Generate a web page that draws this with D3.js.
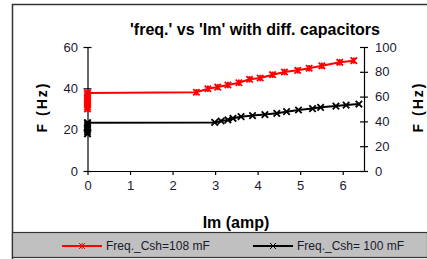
<!DOCTYPE html>
<html>
<head>
<meta charset="utf-8">
<script src="https://d3js.org/d3.v7.min.js"></script>
<style>
    body { margin: 0; background: white; }
    text { font-family: "Liberation Sans", Arial, sans-serif; }
</style>
</head>
<body>
<svg id="chart" width="427" height="259"></svg>
<script>
    // current Im (amp) and frequency (Hz)
    const redIm   = [0, 0, 0, 0, 0, 0, 0, 0, 0, 2.56, 2.83, 3.06, 3.30, 3.56, 3.81, 4.06, 4.35, 4.63, 4.94, 5.21, 5.51, 5.93, 6.26];
    const redFreq = [30, 31, 32, 33, 34, 35, 36, 37, 37.8, 38.1, 39.8, 40.6, 41.6, 42.7, 44.4, 45.0, 46.6, 47.9, 48.7, 49.7, 50.9, 52.6, 53.4];

    const blackIm   = [0, 0, 0, 0, 0, 0, 0, 2.99, 3.14, 3.30, 3.42, 3.61, 3.88, 4.17, 4.45, 4.68, 4.96, 5.29, 5.48, 5.84, 6.08, 6.38];
    const blackFreq = [18, 19, 20, 21, 22, 23, 23.4, 23.5, 24.2, 24.7, 25.5, 26.3, 26.8, 27.3, 27.9, 28.7, 29.5, 30.2, 30.8, 31.4, 31.9, 32.4];

    const xTicks = [0, 1, 2, 3, 4, 5, 6];
    const leftTicks = [0, 20, 40, 60];
    const rightTicks = [0, 20, 40, 60, 80, 100];

    const seriesNames = ["Freq._Csh=108 mF", "Freq._Csh= 100 mF"];
    const seriesColors = ["#ff0000", "#000000"];

    const svg = d3.select("#chart");

    // outer frame
    svg.append("path")
        .attr("d", "M12.5,259 V4.5 H427")
        .attr("fill", "none")
        .attr("stroke", "#333")
        .attr("stroke-width", 1.5);

    const x = d3.scaleLinear().domain([0, 6.5]).range([87.5, 364]);
    const y = d3.scaleLinear().domain([0, 60]).range([171, 47]);
    const y2 = d3.scaleLinear().domain([0, 100]).range([171, 47]);

    // axes
    const ax = svg.append("g").attr("transform", "translate(0,171)")
        .call(d3.axisBottom(x).tickValues(xTicks).tickFormat(d3.format("d")).tickSize(4).tickSizeOuter(0));
    const ay = svg.append("g").attr("transform", "translate(87.5,0)")
        .call(d3.axisLeft(y).tickValues(leftTicks).tickSize(4).tickSizeOuter(0));
    const ay2 = svg.append("g").attr("transform", "translate(364,0)")
        .call(d3.axisRight(y2).tickValues(rightTicks).tickSize(4).tickSizeOuter(0));

    [ax, ay, ay2].forEach(g => {
        g.select(".domain").attr("stroke", "#000").attr("stroke-width", 1.2);
        g.selectAll(".tick line").attr("stroke", "#000").attr("stroke-width", 1.2);
        g.selectAll(".tick text")
            .attr("fill", "#1a1a2e")
            .style("font-family", "'Liberation Sans', Arial, sans-serif")
            .style("font-size", "13px");
    });
    // ticks cross the vertical axes
    ay.selectAll(".tick line").attr("x1", 4);
    ay2.selectAll(".tick line").attr("x1", -4);
    ay.selectAll(".tick text").attr("x", -9.5);
    ay2.selectAll(".tick text").attr("x", 11);
    ax.selectAll(".tick text").attr("y", 10);

    // titles
    svg.append("text")
        .attr("x", 255).attr("y", 35)
        .attr("text-anchor", "middle")
        .style("font-size", "16px").style("font-weight", "bold")
        .text("'freq.' vs 'Im' with diff. capacitors");

    svg.append("text")
        .attr("x", 236).attr("y", 228)
        .attr("text-anchor", "middle")
        .style("font-size", "16px").style("font-weight", "bold")
        .text("Im (amp)");

    [[47, 107], [423, 107]].forEach(([tx, ty]) => {
        svg.append("text")
            .attr("transform", `translate(${tx},${ty}) rotate(-90)`)
            .attr("text-anchor", "middle")
            .style("font-size", "14px").style("font-weight", "bold")
            .style("letter-spacing", "2px")
            .text("F (Hz)");
    });

    // markers
    function starPath(cx, cy, r) {
        return `M${cx - r},${cy - r}L${cx + r},${cy + r}M${cx - r},${cy + r}L${cx + r},${cy - r}M${cx},${cy - r}L${cx},${cy + r}`;
    }
    function crossPath(cx, cy, r) {
        return `M${cx - r},${cy - r}L${cx + r},${cy + r}M${cx - r},${cy + r}L${cx + r},${cy - r}`;
    }

    const line = d3.line().x(d => x(d[0])).y(d => y(d[1]));

    const series = [
        { pts: d3.zip(redIm, redFreq), color: seriesColors[0], marker: starPath },
        { pts: d3.zip(blackIm, blackFreq), color: seriesColors[1], marker: crossPath }
    ];

    series.forEach(s => {
        svg.append("path")
            .attr("d", line(s.pts))
            .attr("fill", "none")
            .attr("stroke", s.color)
            .attr("stroke-width", 2);
        svg.append("g").selectAll("path")
            .data(s.pts)
            .join("path")
            .attr("d", d => s.marker(x(d[0]), y(d[1]), 3.2))
            .attr("stroke", s.color)
            .attr("stroke-width", 1.8)
            .attr("fill", "none");
    });

    // legend band
    svg.append("rect")
        .attr("x", 12.5).attr("y", 232.5)
        .attr("width", 415).attr("height", 25)
        .attr("fill", "#c0c0c0")
        .attr("stroke", "#333")
        .attr("stroke-width", 1.2);

    const legendX = [62, 253];
    const markers = [starPath, crossPath];
    seriesNames.forEach((name, i) => {
        const lx = legendX[i];
        svg.append("line")
            .attr("x1", lx).attr("x2", lx + 40)
            .attr("y1", 246).attr("y2", 246)
            .attr("stroke", seriesColors[i]).attr("stroke-width", 2);
        svg.append("path")
            .attr("d", markers[i](lx + 20, 246, 3))
            .attr("stroke", seriesColors[i]).attr("stroke-width", 1)
            .attr("fill", "none");
        svg.append("text")
            .attr("x", lx + 44).attr("y", 250)
            .attr("fill", "#1a1a2e")
            .style("font-size", "12px")
            .text(name);
    });
</script>
</body>
</html>
